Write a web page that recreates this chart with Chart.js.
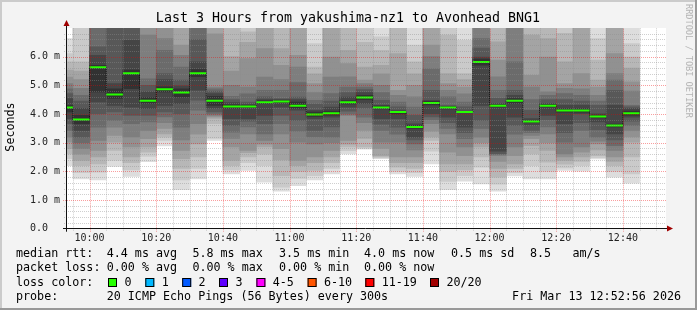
<!DOCTYPE html>
<html>
<head>
<meta charset="utf-8">
<title>Last 3 Hours from yakushima-nz1 to Avonhead BNG1</title>
<script src="https://cdn.jsdelivr.net/npm/chart.js@4.4.1/dist/chart.umd.min.js"></script>
<style>
  html, body { margin: 0; padding: 0; background: #f3f3f3; }
  canvas { display: block; }
</style>
</head>
<body>
<canvas id="chart" width="697" height="310"></canvas>
<script>
'use strict';

// 5 minute rrd steps, start time of each column
const slots = ['09:50', '09:55', '10:00', '10:05', '10:10', '10:15', '10:20', '10:25', '10:30', '10:35',
    '10:40', '10:45', '10:50', '10:55', '11:00', '11:05', '11:10', '11:15', '11:20', '11:25', '11:30',
    '11:35', '11:40', '11:45', '11:50', '11:55', '12:00', '12:05', '12:10', '12:15', '12:20', '12:25',
    '12:30', '12:35', '12:40'];
const stepMin = 5;
const windowStart = '09:52:56';
const windowEnd = '12:52:56';

// median rtt per column (ms)
const medianRtt = [4.23, 3.81, 5.63, 4.68, 5.42, 4.46, 4.86, 4.75, 5.42, 4.46, 4.26, 4.26, 4.41, 4.44,
    4.29, 3.98, 4.03, 4.41, 4.58, 4.23, 4.07, 3.55, 4.38, 4.23, 4.07, 5.81, 4.29, 4.46, 3.74, 4.29,
    4.12, 4.12, 3.91, 3.60, 4.03];

// the 20 sorted pings of each column (ms)
const pings = [
    [2.20, 2.44, 2.61, 2.79, 3.02, 3.19, 3.43, 3.66, 3.84, 4.07, 4.30, 4.54, 4.71, 4.88, 5.06, 5.29, 5.53, 5.82, 6.11, 6.63],
    [1.74, 1.95, 2.20, 2.38, 2.60, 2.79, 3.00, 3.19, 3.43, 3.66, 3.95, 4.20, 4.45, 4.65, 4.90, 5.20, 5.50, 5.82, 7.20, 7.80],
    [1.70, 1.97, 2.26, 2.50, 2.73, 3.08, 3.54, 4.01, 4.42, 4.77, 5.70, 6.05, 6.34, 7.10, 7.50, 7.90, 8.30, 8.80, 9.40, 10.10],
    [2.17, 2.38, 2.73, 3.02, 3.25, 3.54, 3.78, 4.07, 4.30, 4.54, 4.88, 5.06, 7.20, 7.50, 7.90, 8.30, 8.70, 9.20, 9.80, 10.50],
    [1.82, 2.05, 2.30, 2.50, 2.85, 3.20, 3.66, 3.95, 4.24, 4.88, 5.53, 6.57, 7.20, 7.60, 8.00, 8.40, 8.90, 9.40, 10.00, 10.80],
    [2.34, 2.52, 2.67, 2.85, 3.14, 3.43, 3.72, 3.95, 4.19, 4.38, 4.57, 4.77, 5.00, 5.23, 6.75, 7.20, 7.50, 7.90, 8.40, 9.00],
    [2.89, 3.08, 3.19, 3.31, 3.50, 3.70, 3.90, 4.07, 4.30, 4.77, 4.95, 5.20, 5.41, 6.22, 6.63, 7.20, 7.50, 7.90, 8.30, 8.80],
    [1.36, 1.70, 2.10, 2.44, 2.73, 3.10, 3.54, 4.01, 4.36, 4.60, 4.88, 4.98, 5.18, 5.64, 6.05, 6.40, 7.20, 7.60, 8.10, 8.80],
    [1.74, 2.10, 2.50, 2.96, 3.30, 3.66, 4.13, 4.48, 4.83, 5.30, 5.55, 5.82, 6.60, 7.30, 7.60, 8.00, 8.50, 9.00, 9.60, 10.40],
    [3.08, 3.15, 3.66, 3.85, 3.90, 3.95, 4.00, 4.07, 4.20, 4.30, 4.62, 4.71, 4.80, 4.88, 4.94, 6.80, 7.30, 7.80, 8.30, 9.00],
    [1.91, 2.05, 2.20, 2.38, 2.85, 3.15, 3.37, 3.60, 3.84, 4.20, 4.32, 4.40, 4.50, 4.62, 5.00, 5.50, 6.00, 7.20, 7.70, 8.30],
    [2.03, 2.30, 2.50, 2.65, 2.73, 3.31, 3.55, 3.75, 3.84, 4.22, 4.30, 4.35, 4.42, 4.70, 4.94, 5.93, 6.50, 6.87, 7.30, 7.80],
    [1.62, 2.20, 2.60, 2.85, 2.95, 3.08, 3.31, 3.66, 3.95, 4.36, 4.46, 4.50, 4.60, 4.83, 5.29, 6.28, 7.20, 7.60, 8.10, 8.70],
    [1.31, 1.45, 1.85, 2.40, 2.79, 3.31, 3.66, 3.95, 4.24, 4.40, 4.47, 4.50, 4.54, 4.83, 5.20, 5.70, 6.28, 7.20, 7.60, 8.10],
    [1.50, 1.75, 2.00, 2.20, 2.38, 3.02, 3.40, 3.78, 4.13, 4.20, 4.42, 4.50, 4.59, 5.10, 5.64, 6.05, 7.20, 7.60, 8.00, 8.60],
    [1.70, 1.85, 2.03, 2.30, 2.50, 2.96, 3.20, 3.43, 3.84, 3.92, 4.07, 4.13, 4.35, 4.48, 4.75, 5.06, 5.40, 5.64, 6.46, 7.30],
    [1.91, 2.10, 2.30, 2.50, 2.73, 3.00, 3.19, 3.55, 3.89, 3.96, 4.10, 4.24, 4.45, 4.71, 5.29, 5.99, 7.20, 7.60, 8.00, 8.50],
    [2.61, 2.72, 2.85, 2.95, 3.08, 3.95, 4.00, 4.10, 4.24, 4.35, 4.47, 4.59, 4.75, 4.94, 5.30, 5.76, 6.22, 7.20, 7.60, 8.00],
    [2.77, 2.80, 2.85, 3.15, 3.43, 3.70, 3.89, 4.20, 4.36, 4.50, 4.65, 4.75, 4.85, 4.94, 5.06, 5.18, 5.64, 6.50, 7.20, 7.70],
    [2.44, 2.47, 2.50, 2.55, 2.80, 3.02, 3.43, 3.65, 3.84, 4.18, 4.28, 4.30, 4.48, 4.75, 5.00, 5.40, 5.70, 6.22, 6.69, 7.30],
    [1.91, 2.00, 2.15, 2.30, 2.50, 3.02, 3.30, 3.54, 3.84, 4.00, 4.06, 4.12, 4.25, 4.42, 4.65, 4.83, 6.11, 7.20, 7.60, 8.10],
    [1.82, 1.95, 2.10, 2.30, 2.50, 2.75, 2.96, 3.10, 3.19, 3.50, 3.60, 3.66, 3.95, 4.24, 4.60, 5.00, 5.40, 5.82, 6.40, 7.30],
    [2.26, 2.70, 3.08, 3.20, 3.40, 3.66, 3.80, 3.90, 4.01, 4.32, 4.44, 4.48, 4.83, 5.58, 6.00, 6.40, 7.20, 7.60, 8.00, 8.50],
    [1.36, 1.65, 2.00, 2.26, 2.67, 3.31, 3.50, 3.70, 3.89, 4.18, 4.26, 4.27, 4.30, 4.60, 4.83, 5.06, 5.41, 6.75, 7.30, 7.80],
    [1.66, 1.85, 2.05, 2.26, 2.55, 2.85, 3.14, 3.35, 3.54, 4.05, 4.09, 4.10, 4.25, 4.42, 4.70, 4.94, 5.20, 5.41, 6.57, 7.30],
    [1.56, 2.15, 2.50, 2.85, 3.00, 3.19, 3.50, 3.78, 4.30, 5.70, 5.92, 5.99, 6.30, 6.63, 7.30, 7.70, 8.10, 8.60, 9.20, 9.90],
    [1.31, 1.55, 1.80, 2.10, 2.35, 2.55, 2.58, 2.62, 2.70, 4.25, 4.32, 4.36, 4.55, 4.83, 5.30, 5.88, 6.52, 7.20, 7.60, 8.00],
    [1.84, 1.95, 2.10, 2.26, 2.55, 2.85, 3.30, 3.60, 3.89, 4.38, 4.54, 4.65, 4.83, 5.82, 7.20, 7.50, 7.90, 8.30, 8.80, 9.40],
    [1.74, 2.20, 2.61, 2.90, 3.14, 3.25, 3.35, 3.43, 3.62, 3.70, 3.78, 3.84, 4.13, 4.50, 4.94, 5.35, 6.75, 7.30, 7.70, 8.20],
    [1.74, 2.00, 2.32, 2.73, 3.00, 3.31, 3.55, 3.80, 3.95, 4.25, 4.33, 4.36, 4.50, 4.65, 4.77, 5.99, 6.63, 7.20, 7.60, 8.00],
    [2.03, 2.12, 2.25, 2.38, 2.50, 2.61, 3.02, 3.35, 3.66, 4.06, 4.18, 4.30, 4.50, 4.71, 4.90, 5.06, 5.82, 6.81, 7.30, 7.80],
    [2.01, 2.20, 2.35, 2.50, 2.67, 2.85, 3.43, 3.70, 4.01, 4.06, 4.18, 4.30, 4.45, 4.65, 4.88, 5.41, 7.20, 7.60, 8.00, 8.50],
    [2.43, 2.48, 2.55, 2.75, 2.96, 3.05, 3.19, 3.45, 3.72, 3.86, 3.96, 4.01, 4.30, 4.45, 4.65, 4.94, 5.18, 5.88, 6.63, 7.30],
    [1.80, 2.00, 2.20, 2.35, 2.50, 2.73, 2.90, 3.10, 3.31, 3.55, 3.65, 4.30, 4.83, 5.18, 5.41, 6.11, 7.20, 7.60, 8.00, 8.50],
    [1.59, 1.91, 2.50, 3.02, 3.20, 3.43, 3.60, 3.75, 3.89, 3.96, 4.10, 4.19, 4.25, 4.30, 4.80, 5.12, 5.60, 5.99, 6.46, 7.30]
];

const timeTicks = ['10:00', '10:20', '10:40', '11:00', '11:20', '11:40', '12:00', '12:20', '12:40'];
const rttTickValues = [0, 1, 2, 3, 4, 5, 6];
const rttTickLabels = ['0.0  ', '1.0 m', '2.0 m', '3.0 m', '4.0 m', '5.0 m', '6.0 m'];
const rttMax = 7;

const titleText = 'Last 3 Hours from yakushima-nz1 to Avonhead BNG1';
const rttStats = ['4.4 ms avg', '5.8 ms max', '3.5 ms min', '4.0 ms now', '0.5 ms sd', '8.5', 'am/s'];
const lossStats = ['0.00 % avg', '0.00 % max', '0.00 % min', '0.00 % now'];
const lossLabels = ['0', '1', '2', '3', '4-5', '6-10', '11-19', '20/20'];
const lossColors = ['#26ff00', '#00b8ff', '#0059ff', '#5e00ff', '#ff00fe', '#ff5500', '#ff0000', '#a10000'];
const probeText = '20 ICMP Echo Pings (56 Bytes) every 300s';
const stampText = 'Fri Mar 13 12:52:56 2026';

const MONO = '"DejaVu Sans Mono", monospace';
const GRID = 'rgba(140,140,140,0.42)';
const MGRID = 'rgba(240,0,0,0.38)';
const CLIP = { left: 0, top: 0, right: 0, bottom: 0 };

function toMin(s) {
    const p = s.split(':').map(Number);
    return p[0] * 60 + p[1] + (p[2] || 0) / 60;
}

// smoke: ping i up to ping 21-i, darker towards the middle
const smokeSets = [];
for (let b = 1; b <= 10; b++) {
    const g = Math.floor(190 / 10 * (10 - b)) + 50;
    smokeSets.push({
        type: 'bar',
        data: slots.map((s, i) => ({ x: toMin(s) + stepMin / 2, y: [pings[i][b - 1], pings[i][20 - b]] })),
        backgroundColor: 'rgb(' + g + ',' + g + ',' + g + ')',
        borderWidth: 0,
        barPercentage: 1,
        categoryPercentage: 1,
        grouped: false,
        order: 12 - b,
        clip: CLIP
    });
}

// each column end carries its median; 'after' goes vertical first, so the riser sits at the column edge
const riserPts = [{ x: toMin(slots[0]), y: medianRtt[0] }];
slots.forEach((s, i) => riserPts.push({ x: toMin(s) + stepMin, y: medianRtt[i] }));

const medianPts = [];
slots.forEach((s, i) => {
    const t = toMin(s);
    medianPts.push({ x: t, y: medianRtt[i] }, { x: t + stepMin, y: medianRtt[i] }, { x: t + stepMin, y: null });
});

const rrdLook = {
    id: 'rrdLook',
    beforeDraw(chart) {
        const { ctx, chartArea: a, width, height } = chart;
        ctx.save();
        ctx.fillStyle = '#f3f3f3';
        ctx.fillRect(0, 0, width, height);
        ctx.fillStyle = '#ffffff';
        ctx.fillRect(a.left, a.top, a.right - a.left, a.bottom - a.top);
        ctx.fillStyle = '#cbcbcb';
        ctx.fillRect(0, 0, width, 2);
        ctx.fillRect(0, 0, 2, height);
        ctx.fillStyle = '#999999';
        ctx.fillRect(0, height - 2, width, 2);
        ctx.fillRect(width - 2, 0, 2, height);
        ctx.restore();
    },

    afterDatasetsDraw(chart) {
        const { ctx, chartArea: a } = chart;
        const xs = chart.scales.x, ys = chart.scales.y;
        const majors = timeTicks.map(toMin);
        ctx.save();
        ctx.lineWidth = 1;
        ctx.setLineDash([1, 1]);

        for (let t = toMin(slots[1]); t <= xs.max; t += stepMin) {
            const major = majors.some(m => Math.abs(m - t) < 0.01);
            const px = Math.round(xs.getPixelForValue(t)) + 0.5;
            ctx.strokeStyle = major ? MGRID : GRID;
            ctx.beginPath();
            ctx.moveTo(px, a.bottom + (major ? 3 : 2));
            ctx.lineTo(px, a.top);
            ctx.stroke();
        }
        for (let k = 1; k < rttMax * 5; k++) {
            const major = k % 5 === 0;
            const py = Math.round(ys.getPixelForValue(k / 5)) + 0.5;
            ctx.strokeStyle = major ? MGRID : GRID;
            ctx.beginPath();
            ctx.moveTo(a.left - (major ? 3 : 2), py);
            ctx.lineTo(a.right, py);
            ctx.stroke();
        }

        // axes with arrows
        ctx.setLineDash([]);
        ctx.strokeStyle = '#111';
        const ax = Math.round(a.left) + 0.5;
        const ay = Math.round(a.bottom) - 0.5;
        ctx.beginPath();
        ctx.moveTo(a.left - 3, ay);
        ctx.lineTo(a.right + 2, ay);
        ctx.moveTo(ax, a.bottom + 3);
        ctx.lineTo(ax, a.top - 2);
        ctx.stroke();
        ctx.fillStyle = '#a00000';
        ctx.beginPath();
        ctx.moveTo(a.right + 1, ay - 3);
        ctx.lineTo(a.right + 7, ay);
        ctx.lineTo(a.right + 1, ay + 3);
        ctx.closePath();
        ctx.fill();
        ctx.beginPath();
        ctx.moveTo(ax - 3, a.top - 2);
        ctx.lineTo(ax, a.top - 8);
        ctx.lineTo(ax + 3, a.top - 2);
        ctx.closePath();
        ctx.fill();
        ctx.restore();
    },

    afterDraw(chart) {
        const ctx = chart.ctx;
        ctx.save();
        ctx.fillStyle = '#000';
        ctx.textBaseline = 'middle';

        ctx.font = '13.3px ' + MONO;
        ctx.textAlign = 'center';
        ctx.fillText(titleText, 348, 19);

        ctx.font = '11.7px ' + MONO;
        ctx.save();
        ctx.translate(10.5, 127);
        ctx.rotate(-Math.PI / 2);
        ctx.fillText('Seconds', 0, 0);
        ctx.restore();

        ctx.save();
        ctx.fillStyle = '#b4b4b4';
        ctx.font = '8.6px ' + MONO;
        ctx.translate(688, 4);
        ctx.rotate(Math.PI / 2);
        ctx.textAlign = 'left';
        ctx.fillText('RRDTOOL / TOBI OETIKER', 0, 0);
        ctx.restore();

        ctx.textAlign = 'left';
        const rttX = [106.7, 192.4, 279, 364, 451, 530, 572.4];
        const lossX = [106.7, 192.4, 279, 364];
        ctx.fillText('median rtt:', 16, 253.5);
        rttStats.forEach((s, i) => ctx.fillText(s, rttX[i], 253.5));
        ctx.fillText('packet loss:', 16, 268);
        lossStats.forEach((s, i) => ctx.fillText(s, lossX[i], 268));
        ctx.fillText('loss color:', 16, 282.5);
        const boxX = [108, 145.3, 182.2, 219, 256.4, 307.6, 365.3, 430];
        lossLabels.forEach((s, i) => {
            ctx.fillStyle = lossColors[i];
            ctx.fillRect(boxX[i], 278, 9, 9);
            ctx.strokeStyle = '#000';
            ctx.lineWidth = 1;
            ctx.strokeRect(boxX[i] + 0.5, 278.5, 8, 8);
            ctx.fillStyle = '#000';
            ctx.fillText(s, boxX[i] + 16.4, 282.5);
        });
        ctx.fillText('probe:', 16, 297);
        ctx.fillText(probeText, 106.7, 297);
        ctx.textAlign = 'right';
        ctx.fillText(stampText, 681, 297);
        ctx.restore();
    }
};

new Chart(document.getElementById('chart'), {
    type: 'bar',
    data: {
        datasets: smokeSets.concat([
            {
                type: 'line',
                data: riserPts,
                stepped: 'after',
                borderColor: 'rgba(0,0,0,0.75)',
                borderWidth: 1,
                borderDash: [1, 1],
                pointRadius: 0,
                fill: false,
                order: 1,
                clip: CLIP
            },
            {
                type: 'line',
                data: medianPts,
                borderColor: lossColors[0],
                borderWidth: 2,
                pointRadius: 0,
                spanGaps: false,
                fill: false,
                order: 0,
                clip: CLIP
            }
        ])
    },
    options: {
        responsive: false,
        devicePixelRatio: 1,
        animation: false,
        events: [],
        layout: { padding: { left: 0, top: 28, right: 31, bottom: 0 } },
        plugins: {
            legend: { display: false },
            tooltip: { enabled: false },
            title: { display: false }
        },
        scales: {
            x: {
                type: 'linear',
                position: 'bottom',
                offset: false,
                min: toMin(windowStart),
                max: toMin(windowEnd),
                grid: { display: false, drawTicks: false },
                border: { display: false },
                afterBuildTicks: (s) => { s.ticks = timeTicks.map(t => ({ value: toMin(t) })); },
                afterFit: (s) => { s.height = 81.3; },
                ticks: {
                    autoSkip: false,
                    maxRotation: 0,
                    padding: 4,
                    color: '#222',
                    font: { family: MONO, size: 10 },
                    callback: (v, i) => timeTicks[i]
                }
            },
            y: {
                type: 'linear',
                min: 0,
                max: rttMax,
                grid: { display: false, drawTicks: false },
                border: { display: false },
                afterBuildTicks: (s) => { s.ticks = rttTickValues.map(v => ({ value: v })); },
                afterFit: (s) => { s.width = 66; },
                ticks: {
                    padding: 6,
                    color: '#222',
                    font: { family: MONO, size: 10 },
                    callback: (v, i) => rttTickLabels[i]
                }
            }
        }
    },
    plugins: [rrdLook]
});
</script>
</body>
</html>
